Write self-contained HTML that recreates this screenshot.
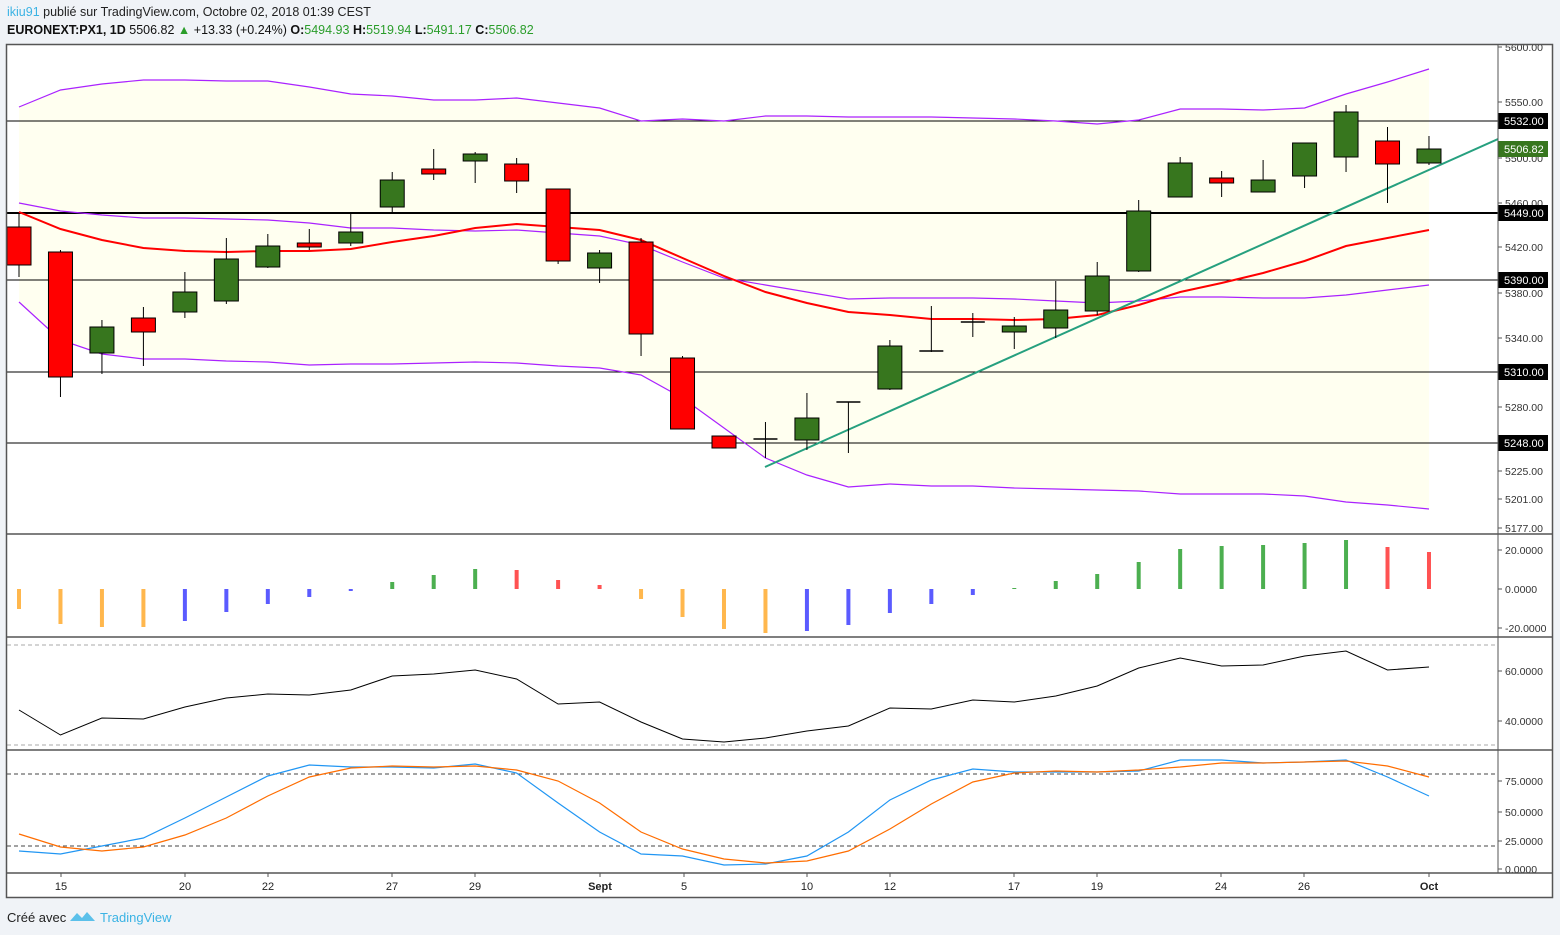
<!DOCTYPE html>
<html><head><meta charset="utf-8">
<style>
body{margin:0;background:#f0f3f7;width:1560px;height:935px;overflow:hidden;font-family:"Liberation Sans",sans-serif}
svg{position:absolute;left:0;top:0}
</style></head><body>
<svg id="s" width="1560" height="935" xmlns="http://www.w3.org/2000/svg" font-family="Liberation Sans, sans-serif">
<rect x="7" y="44" width="1546" height="854" fill="#fff"/>
<text x="7" y="16" font-size="12.5"><tspan fill="#3bb3e4">ikiu91</tspan><tspan fill="#222"> publié sur TradingView.com, Octobre 02, 2018 01:39 CEST</tspan></text>
<text x="7" y="34" font-size="12.5" fill="#111"><tspan font-weight="bold">EURONEXT:PX1, 1D</tspan> 5506.82 <tspan fill="#2a9d2a">▲</tspan> +13.33 (+0.24%) <tspan font-weight="bold">O:</tspan><tspan fill="#2a9d2a">5494.93</tspan> <tspan font-weight="bold">H:</tspan><tspan fill="#2a9d2a">5519.94</tspan> <tspan font-weight="bold">L:</tspan><tspan fill="#2a9d2a">5491.17</tspan> <tspan font-weight="bold">C:</tspan><tspan fill="#2a9d2a">5506.82</tspan></text>
<g id="g"></g>
<text x="7" y="922" font-size="13" fill="#222">Créé avec</text>
<path d="M70 921 l7 -8 l5 5 l5 -6 l8 9 z" fill="#5bc0ea"/>
<text x="100" y="922" font-size="13" fill="#3bb3e4">TradingView</text>
</svg>
<script>
const g=document.getElementById('g');let h='';
const X=i=>19+41.47*i;
const up=[107,90,84,80,80,81,81,87,94,96,100,100,98,103,108,121,119,121,116,116,117,117,117,118,119,121,124,120,109,109,110,108,94,82,69];
const mid=[203,211,215,218,218,219,220,223,228,228,230,231,230,233,236,245,262,278,285,292,299,298,298,298,299,301,303,301,297,297,298,298,295,290,285];
const lo=[302,340,354,359,359,361,362,365,364,364,363,362,363,366,368,375,398,428,458,475,487,484,486,486,488,489,490,491,494,494,494,496,502,505,509];
const ema=[212,229,240,248,251,252,251,251,249,242,236,228,224,227,230,240,258,276,292,303,312,315,319,319,320,319,315,305,292,283,273,261,246,238,230];
const pl=a=>a.map((v,i)=>X(i).toFixed(1)+','+v).join(' ');
let poly=pl(up)+' '+lo.map((v,i)=>[X(i).toFixed(1),v]).reverse().map(p=>p.join(',')).join(' ');
h+=`<clipPath id="c"><rect x="7" y="44" width="1491" height="490"/></clipPath><g clip-path="url(#c)">`;
h+=`<polygon points="${poly}" fill="#fffff0"/>`;
[[121,1],[213,2],[280,1],[372,1],[443,1]].forEach(([y,w])=>h+=`<line x1="7" x2="1498" y1="${y}" y2="${y}" stroke="#000" stroke-width="${w}"/>`);
['up','mid','lo'].forEach((n,k)=>h+=`<polyline points="${pl([up,mid,lo][k])}" fill="none" stroke="#aa22ff" stroke-width="1.2"/>`);
h+=`<polyline points="${pl(ema)}" fill="none" stroke="#ff0000" stroke-width="2"/>`;
h+=`<line x1="765" y1="467" x2="1498" y2="139" stroke="#26a07f" stroke-width="2"/>`;
const C=[['r',227,265,213,277],['r',252,377,250,397],['g',327,353,320,374],['r',318,332,307,366],['g',292,312,272,318],['g',259,301,238,304],['g',246,267,234,268],['r',243,247,229,250],['g',232,243,214,246],['g',180,207,172,212],['r',169,174,149,180],['g',154,161,152,183],['r',164,181,158,193],['r',189,261,189,264],['g',253,268,250,283],['r',242,334,238,356],['r',358,429,356,429],['r',436,448,436,448],['d',439,439,422,458],['g',418,440,393,450],['d',402,402,402,453],['g',346,389,340,390],['d',351,351,306,352],['d',322,322,313,337],['g',326,332,317,349],['g',310,328,281,338],['g',276,311,262,315],['g',211,271,200,272],['g',163,197,157,197],['r',178,183,171,197],['g',180,192,160,192],['g',143,176,143,188],['g',112,157,105,172],['r',141,164,127,203],['g',149,163,136,165]];
C.forEach((c,i)=>{const x=X(i);h+=`<line x1="${x}" x2="${x}" y1="${c[3]}" y2="${c[4]}" stroke="#000"/>`;
if(c[0]=='d')h+=`<line x1="${x-12}" x2="${x+12}" y1="${c[1]}" y2="${c[1]}" stroke="#000" stroke-width="1.5"/>`;
else h+=`<rect x="${x-12}" y="${c[1]}" width="24" height="${Math.max(c[2]-c[1],3)}" fill="${c[0]=='r'?'#ff0000':'#37761e'}" stroke="#000"/>`;});
h+='</g>';
// price axis
[[47,'5600.00'],[102,'5550.00'],[158,'5500.00'],[203,'5460.00'],[247,'5420.00'],[293,'5380.00'],[338,'5340.00'],[407,'5280.00'],[471,'5225.00'],[499,'5201.00'],[528,'5177.00']].forEach(([y,t])=>h+=`<line x1="1498" x2="1502" y1="${y}" y2="${y}" stroke="#555"/><text x="1505" y="${y+4}" font-size="10.5" fill="#333">${t}</text>`);
[[121,'5532.00','#000'],[149,'5506.82','#37761e'],[213,'5449.00','#000'],[280,'5390.00','#000'],[372,'5310.00','#000'],[443,'5248.00','#000']].forEach(([y,t,c])=>h+=`<rect x="1498" y="${y-8}" width="50" height="16" fill="${c}"/><text x="1504" y="${y+4}" font-size="11" fill="#fff">${t}</text>`);
// histogram
const hb=[['o',609],['o',624],['o',627],['o',627],['b',621],['b',612],['b',604],['b',597],['b',591],['g',582],['g',575],['g',569],['r',570],['r',580],['r',585],['o',599],['o',617],['o',629],['o',633],['b',631],['b',625],['b',613],['b',604],['b',595],['g',588],['g',581],['g',574],['g',562],['g',549],['g',546],['g',545],['g',543],['g',540],['r',547],['r',552]];
const hc={o:'#ffb74d',b:'#5b5bff',g:'#4caf50',r:'#ff5252'};
hb.forEach((b,i)=>{const y1=Math.min(589,b[1]),y2=Math.max(589,b[1]);h+=`<rect x="${X(i)-2}" y="${y1}" width="4" height="${Math.max(y2-y1,1)}" fill="${hc[b[0]]}"/>`;});
[[550,'20.0000'],[589,'0.0000'],[628,'-20.0000']].forEach(([y,t])=>h+=`<line x1="1498" x2="1502" y1="${y}" y2="${y}" stroke="#555"/><text x="1505" y="${y+4}" font-size="10.5" fill="#333">${t}</text>`);
// RSI
[645,745,774,846].forEach(y=>h+=`<line x1="7" x2="1498" y1="${y}" y2="${y}" stroke="${y<750?'#aaa':'#444'}" stroke-dasharray="4,3"/>`);
const rsi=[710,735,718,719,707,698,694,695,690,676,674,670,679,704,702,722,739,742,738,731,726,708,709,700,702,696,686,668,658,666,665,656,651,670,667];
h+=`<polyline points="${pl(rsi)}" fill="none" stroke="#000" stroke-width="1"/>`;
[[671,'60.0000'],[721,'40.0000']].forEach(([y,t])=>h+=`<line x1="1498" x2="1502" y1="${y}" y2="${y}" stroke="#555"/><text x="1505" y="${y+4}" font-size="10.5" fill="#333">${t}</text>`);
const sb=[851,854,846,838,818,797,776,765,767,767,768,764,773,803,832,854,856,865,864,856,832,800,780,769,772,772,772,771,760,760,763,762,760,777,796];
const so=[834,847,851,847,835,818,796,777,768,766,767,766,770,781,803,832,849,859,863,861,851,829,804,782,773,771,772,770,767,763,763,762,761,766,777];
h+=`<polyline points="${pl(sb)}" fill="none" stroke="#2196f3" stroke-width="1.2"/><polyline points="${pl(so)}" fill="none" stroke="#ff6d00" stroke-width="1.2"/>`;
[[781,'75.0000'],[812,'50.0000'],[841,'25.0000'],[869,'0.0000']].forEach(([y,t])=>h+=`<line x1="1498" x2="1502" y1="${y}" y2="${y}" stroke="#555"/><text x="1505" y="${y+4}" font-size="10.5" fill="#333">${t}</text>`);
// separators & borders
[534,637,750,873].forEach(y=>h+=`<line x1="7" x2="1553" y1="${y}" y2="${y}" stroke="#555" stroke-width="1.5"/>`);
h+=`<line x1="1498" x2="1498" y1="44" y2="873" stroke="#555"/>`;
h+=`<rect x="6.5" y="44.5" width="1546" height="853" fill="none" stroke="#555" stroke-width="1.5"/>`;
[[61,'15'],[185,'20'],[268,'22'],[392,'27'],[475,'29'],[600,'Sept'],[684,'5'],[807,'10'],[890,'12'],[1014,'17'],[1097,'19'],[1221,'24'],[1304,'26'],[1429,'Oct']].forEach(([x,t])=>h+=`<line x1="${x}" x2="${x}" y1="873" y2="877" stroke="#555"/><text x="${x}" y="890" font-size="11" text-anchor="middle" fill="#222" ${isNaN(t)?'font-weight="bold"':''}>${t}</text>`);
g.innerHTML=h;
</script>
</body></html>
